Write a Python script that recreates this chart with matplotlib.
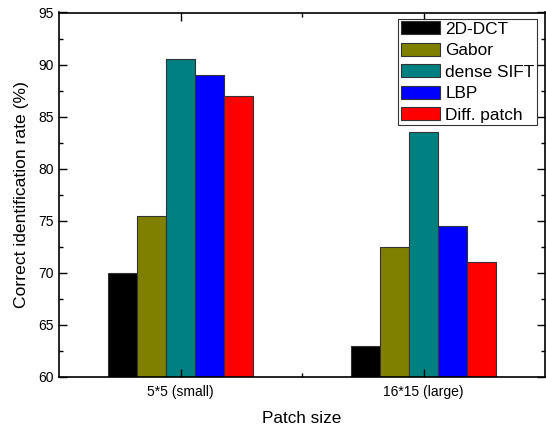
import matplotlib
matplotlib.use("Agg")
import matplotlib.pyplot as plt
import numpy as np
from matplotlib.ticker import MultipleLocator, FixedLocator

plt.rcParams['font.family'] = ['Liberation Sans', 'DejaVu Sans']

groups = ["5*5 (small)", "16*15 (large)"]
methods = ["2D-DCT", "Gabor", "dense SIFT", "LBP", "Diff. patch"]
rates = [
    [70.0, 63.0],   # 2D-DCT
    [75.5, 72.5],   # Gabor
    [90.5, 83.5],   # dense SIFT
    [89.0, 74.5],   # LBP
    [87.0, 71.0],   # Diff. patch
]
colors = ["#000000", "#808000", "#008080", "#0000ff", "#ff0000"]

fig = plt.figure(figsize=(5.46, 4.28), dpi=100)
ax = fig.add_axes([59 / 546, 1 - 377 / 428, (545 - 59) / 546, (377 - 12.5) / 428])

x = np.arange(1, len(groups) + 1)
width = 0.12
for i, (name, vals) in enumerate(zip(methods, rates)):
    ax.bar(x + (i - 2) * width, np.array(vals) - 60, width, bottom=60,
           color=colors[i], edgecolor="#333333", linewidth=0.8, label=name)

ax.set_xlim(0.5, 2.5)
ax.set_ylim(60, 95)
ax.set_xticks(x)
ax.set_xticklabels(groups, fontsize=10)
ax.xaxis.set_minor_locator(FixedLocator([1.5]))
ax.yaxis.set_major_locator(MultipleLocator(5))
ax.yaxis.set_minor_locator(MultipleLocator(2.5))
ax.tick_params(axis='both', which='major', direction='in', length=6, width=1,
               top=True, right=True, labelsize=10)
ax.tick_params(axis='x', which='major', pad=6)
ax.tick_params(axis='both', which='minor', direction='in', length=3, width=1,
               top=True, right=True)
for s in ax.spines.values():
    s.set_linewidth(1.2)

ax.set_xlabel("Patch size", fontsize=12.3, labelpad=8.5)
ax.set_ylabel("Correct identification rate (%)", fontsize=12.6, labelpad=7)

leg = ax.legend(loc="upper right", bbox_to_anchor=(0.984, 0.983), fontsize=12.4,
                fancybox=False, framealpha=1, edgecolor="#333333",
                handlelength=2.3, handleheight=0.8, handletextpad=0.3,
                labelspacing=0.34, borderpad=0.15, borderaxespad=0.0)
leg.get_frame().set_linewidth(0.8)

fig.savefig("out.png", dpi=100)
